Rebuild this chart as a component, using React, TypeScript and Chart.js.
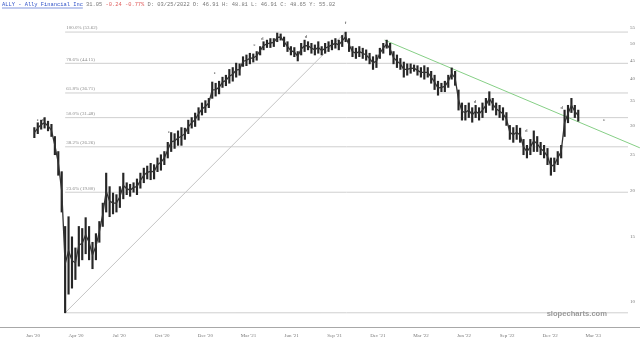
import React, { useEffect, useRef } from 'react';
import { Chart, registerables } from 'chart.js';

Chart.register(...registerables);

// ---- data (x unit: trading days since the first bar, weekly bars) ----
const weekLows = [
  27.8, 28.5, 29.3, 29.5, 29.0, 28.0, 25.0, 22.0, 17.5, 9.35,
  10.5, 10.9, 11.5, 12.5, 13.0, 13.5, 13.0, 12.3, 13.0, 14.5,
  16.0, 17.5, 17.0, 17.3, 17.5, 18.0, 19.0, 19.5, 19.3, 19.8,
  19.5, 20.3, 21.0, 21.5, 21.4, 21.5, 22.5, 22.7, 23.5, 24.5,
  25.5, 26.0, 26.5, 26.5, 27.5, 28.5, 29.5, 29.8, 31.0, 32.0,
  32.5, 33.5, 35.5, 36.0, 36.5, 38.0, 38.4, 39.0, 39.5, 40.5,
  41.0, 43.3, 43.5, 44.0, 44.5, 45.0, 46.5, 48.0, 48.7, 48.7,
  49.0, 50.5, 51.0, 49.0, 47.5, 46.5, 46.0, 44.8, 46.5, 47.5,
  48.0, 47.0, 46.5, 47.0, 46.5, 47.0, 47.5, 48.0, 48.5, 48.0,
  49.0, 50.5, 47.5, 46.0, 45.5, 46.0, 45.5, 45.0, 44.0, 42.5,
  43.0, 45.5, 47.0, 48.5, 46.5, 44.0, 43.0, 42.5, 40.5, 41.0,
  41.5, 42.0, 41.0, 40.5, 40.0, 40.5, 39.0, 37.5, 36.2, 37.0,
  37.0, 38.0, 40.0, 38.5, 33.0, 31.0, 31.0, 31.5, 30.6, 31.5,
  31.0, 31.5, 32.5, 34.0, 33.0, 32.0, 31.5, 31.0, 30.0, 27.5,
  27.0, 27.5, 27.0, 25.0, 24.5, 25.0, 25.5, 25.5, 25.0, 24.5,
  23.5, 22.0, 22.5, 23.5, 24.5, 28.0, 30.5, 32.5, 31.5, 30.8,
];
const weekHighs = [
  29.6, 30.5, 31.0, 31.5, 30.8, 30.2, 28.0, 25.5, 22.5, 16.0,
  17.0, 15.0, 14.0, 16.0, 15.8, 16.9, 16.0, 14.5, 15.3, 16.5,
  18.5, 22.3, 20.5, 19.7, 19.5, 20.5, 22.3, 21.0, 20.8, 21.0,
  21.5, 22.3, 23.0, 23.3, 23.7, 23.5, 24.5, 25.0, 25.5, 27.0,
  28.7, 28.5, 29.0, 29.6, 29.5, 31.0, 31.5, 32.4, 33.5, 34.5,
  35.0, 35.5, 39.3, 39.0, 39.5, 40.5, 41.0, 42.5, 43.0, 44.2,
  44.0, 46.0, 46.5, 47.0, 46.8, 47.5, 49.0, 50.5, 51.0, 51.5,
  51.5, 53.3, 53.0, 52.0, 50.5, 49.0, 48.7, 47.5, 50.0, 51.0,
  50.5, 50.0, 49.5, 50.5, 49.0, 50.0, 50.5, 51.0, 51.5, 51.0,
  52.5, 53.6, 51.5, 49.0, 48.5, 49.0, 48.5, 48.0, 47.0, 46.0,
  46.5, 48.5, 50.0, 51.0, 50.0, 47.5, 46.5, 45.5, 44.5, 44.0,
  44.0, 43.7, 43.5, 43.0, 43.5, 43.0, 42.0, 41.0, 39.5, 39.0,
  39.5, 41.0, 42.9, 42.0, 37.4, 34.5, 34.0, 34.5, 33.5, 34.0,
  33.5, 34.5, 35.5, 37.0, 35.5, 34.5, 34.0, 33.5, 32.5, 30.0,
  29.6, 30.0, 29.5, 27.5, 26.5, 27.5, 29.0, 28.0, 27.0, 26.5,
  26.0, 24.5, 24.5, 25.5, 26.5, 33.0, 34.0, 35.5, 34.0, 33.0,
];
const daysPerWeek = 5;

const xTickDays = [0, 63, 126, 189, 252, 315, 378, 441, 504, 567, 630, 693, 756, 819];
const xTickLabels = ["Jan '20", "Apr '20", "Jul '20", "Oct '20", "Dec '20", "Mar '21", "Jun '21",
  "Sep '21", "Dec '21", "Mar '22", "Jun '22", "Sep '22", "Dec '22", "Mar '23"];
const yTicks = [10, 15, 20, 25, 30, 35, 40, 45, 50, 55];

const fibLowDay = 47;
const fibHighDay = 457;
const fibLow = 9.35;
const fibHigh = 53.62;
const fibLevels = [0, 0.236, 0.382, 0.5, 0.618, 0.786, 1];

const trendDays = [514, 887];
const trendValues = [51.0, 26.1];

const markerDays = [7, 15, 199, 266, 324, 335, 399, 457, 646, 721, 773, 835];
const markerValues = [31.0, 31.0, 28.9, 41.6, 49.5, 51.3, 52.0, 56.8, 34.7, 29.0, 33.5, 31.0];
const markerLetters = ['e', 'd', 'e', 'e', 'e', 'd', 'd', 'f', 'd', 'd', 'd', 'e'];

const headerParts: [string, string, boolean][] = [
  ['ALLY - Ally Financial Inc', '#2f52c8', true],
  [' 31.05 ', '#777777', false],
  ['-0.24 -0.77%', '#e06060', false],
  [' D: 03/25/2022 O: 46.91 H: 48.81 L: 46.91 C: 48.65 Y: 55.02', '#777777', false],
];

const X_MIN = -48.2;
const X_MAX = 869.7;
const Y_MIN = 8.56;
const Y_MAX = 60;

const overlayPlugin = {
  id: 'overlay',
  afterDatasetsDraw(chart: any) {
    const { ctx, chartArea, scales } = chart;
    const xs = scales.x;
    const ys = scales.y;
    ctx.save();
    ctx.font = '5px "Liberation Serif", serif';
    ctx.fillStyle = '#8a8a8a';
    ctx.textBaseline = 'middle';
    ctx.textAlign = 'left';
    fibLevels.forEach((lv) => {
      if (lv === 0) return;
      const v = fibLow + lv * (fibHigh - fibLow);
      const px = xs.getPixelForValue(fibLowDay) + 1;
      const py = ys.getPixelForValue(v) - 4;
      ctx.fillText(`${(lv * 100).toFixed(1)}% (${v.toFixed(2)})`, px, py);
    });
    ctx.font = '5px "Liberation Serif", serif';
    ctx.fillStyle = '#333';
    ctx.textAlign = 'center';
    markerDays.forEach((d, i) => {
      ctx.fillText(markerLetters[i], xs.getPixelForValue(d), ys.getPixelForValue(markerValues[i]));
    });
    ctx.font = 'bold 7.6px "Liberation Sans", sans-serif';
    ctx.fillStyle = '#9a9a9a';
    ctx.textAlign = 'right';
    ctx.fillText('slopecharts.com', chartArea.right - 21, chartArea.bottom - 13);
    ctx.strokeStyle = '#a8a8a8';
    ctx.lineWidth = 1;
    ctx.beginPath();
    ctx.moveTo(0, Math.round(chartArea.bottom) + 0.5);
    ctx.lineTo(chart.width, Math.round(chartArea.bottom) + 0.5);
    ctx.stroke();
    ctx.font = '5.4px "Liberation Mono", monospace';
    ctx.textAlign = 'left';
    ctx.textBaseline = 'middle';
    let x = 2;
    const y = 5;
    headerParts.forEach(([t, c, u]) => {
      ctx.fillStyle = c;
      ctx.fillText(t, x, y);
      const w = ctx.measureText(t).width;
      if (u) {
        ctx.strokeStyle = c;
        ctx.lineWidth = 0.6;
        ctx.beginPath();
        ctx.moveTo(x, y + 3);
        ctx.lineTo(x + w, y + 3);
        ctx.stroke();
      }
      x += w;
    });
    ctx.restore();
  },
};

export default function App() {
  const ref = useRef<HTMLCanvasElement>(null);
  useEffect(() => {
    if (!ref.current) return;
    const bars = weekLows.map((lo, i) => ({ x: i * daysPerWeek + 2, y: [lo, weekHighs[i]] }));
    const mids = weekLows.map((lo, i) => ({ x: i * daysPerWeek + 2, y: (lo + weekHighs[i]) / 2 }));
    const fibSets = fibLevels.map((lv) => {
      const v = fibLow + lv * (fibHigh - fibLow);
      return {
        type: 'line' as const,
        data: [{ x: fibLowDay, y: v }, { x: X_MAX, y: v }],
        borderColor: '#cfcfcf',
        borderWidth: 1,
        pointRadius: 0,
        order: 5,
      };
    });
    const chart = new Chart(ref.current, {
      type: 'bar',
      data: {
        datasets: [
          {
            type: 'bar',
            data: bars as any,
            backgroundColor: '#262626',
            barThickness: 1.5,
            grouped: false,
            order: 1,
          } as any,
          {
            type: 'line',
            data: mids,
            borderColor: '#333333',
            borderWidth: 1.3,
            pointRadius: 0,
            order: 0,
          },
          ...fibSets,
          {
            type: 'line',
            data: [{ x: fibLowDay, y: fibLow }, { x: fibHighDay, y: fibHigh }],
            borderColor: '#c4c4c4',
            borderWidth: 1,
            pointRadius: 0,
            order: 4,
          },
          {
            type: 'line',
            data: trendDays.map((d, i) => ({ x: d, y: trendValues[i] })),
            borderColor: '#86cf86',
            borderWidth: 1,
            pointRadius: 0,
            clip: false,
            order: 3,
          } as any,
        ],
      },
      options: {
        animation: false,
        responsive: false,
        layout: { padding: { top: 14, left: 0, right: 0, bottom: 0 } },
        plugins: { legend: { display: false }, tooltip: { enabled: false } },
        scales: {
          x: {
            type: 'linear',
            offset: false,
            bounds: 'data',
            min: X_MIN,
            max: X_MAX,
            afterBuildTicks: (s: any) => { s.ticks = xTickDays.map((v) => ({ value: v })); },
            afterFit: (s: any) => { s.height = 16; s.paddingLeft = 0; s.paddingRight = 0; },
            ticks: {
              autoSkip: false,
              maxRotation: 0,
              padding: 6,
              color: '#777',
              font: { size: 5, family: '"Liberation Serif", serif' },
              callback: (_v: any, i: number) => xTickLabels[i],
            },
            grid: { display: false, drawTicks: false },
            border: { display: false },
          },
          y: {
            type: 'logarithmic',
            position: 'right',
            min: Y_MIN,
            max: Y_MAX,
            afterBuildTicks: (s: any) => { s.ticks = yTicks.map((v) => ({ value: v })); },
            afterFit: (s: any) => { s.width = 12; },
            ticks: {
              padding: 2,
              color: '#777',
              font: { size: 5, family: '"Liberation Serif", serif' },
              callback: (v: any) => String(v),
            },
            grid: { display: false, drawTicks: false },
            border: { display: false },
          },
        },
      },
      plugins: [overlayPlugin],
    });
    return () => chart.destroy();
  }, []);
  return (
    <div style={{ position: 'fixed', left: 0, top: 0, width: 640, height: 343, background: '#fff' }}>
      <canvas ref={ref} width={640} height={343} />
    </div>
  );
}
